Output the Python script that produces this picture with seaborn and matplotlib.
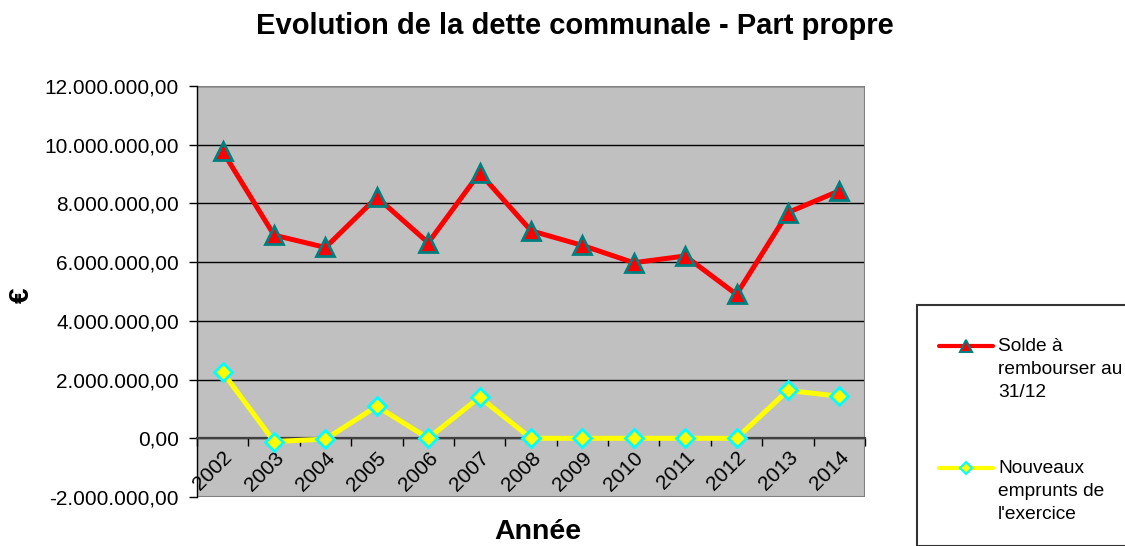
import pandas as pd
import matplotlib.pyplot as plt
import seaborn as sns
from matplotlib.lines import Line2D
from matplotlib.patches import Rectangle
from matplotlib.ticker import FixedLocator, FuncFormatter

annees = ['2002', '2003', '2004', '2005', '2006', '2007', '2008',
          '2009', '2010', '2011', '2012', '2013', '2014']
solde = [9770000, 6920000, 6500000, 8210000, 6660000, 9040000, 7070000,
         6570000, 5980000, 6210000, 4900000, 7690000, 8430000]
nouveaux = [2250000, -110000, -30000, 1090000, 0, 1400000, 0,
            0, 0, 0, 0, 1630000, 1430000]
y_ticks = [-2000000, 0, 2000000, 4000000, 6000000, 8000000, 10000000, 12000000]

lbl_solde = 'Solde à\nrembourser au\n31/12'
lbl_nouv = 'Nouveaux\nemprunts de\nl\'exercice'

df = pd.DataFrame({'annee': annees, 'solde': solde, 'nouveaux': nouveaux})
df['pos'] = range(len(df))

sns.set_style('white')
plt.rcParams['font.family'] = ['Liberation Sans', 'DejaVu Sans']
plt.rcParams['text.color'] = 'black'
plt.rcParams['xtick.labelcolor'] = 'black'
plt.rcParams['ytick.labelcolor'] = 'black'

W, H = 1125, 546
fig = plt.figure(figsize=(W / 100, H / 100), dpi=100)
ax = fig.add_axes([197 / W, 1 - 497 / H, 668 / W, 411 / H])
ax.set_facecolor('#C0C0C0')

sns.lineplot(data=df, x='pos', y='solde', ax=ax, color='#FF0000', linewidth=3.6,
             marker='^', markersize=13, markerfacecolor='#FF0000',
             markeredgecolor='#007F7F', markeredgewidth=2, zorder=4)
sns.lineplot(data=df, x='pos', y='nouveaux', ax=ax, color='#FFFF00', linewidth=3.6,
             marker='D', markersize=9, markerfacecolor='#FFFF00',
             markeredgecolor='#00FFFF', markeredgewidth=2, zorder=4)

ax.set_xlim(-0.5, len(annees) - 0.5)
ax.set_ylim(y_ticks[0], y_ticks[-1])

# y axis
ax.yaxis.set_major_locator(FixedLocator(y_ticks))
ax.yaxis.set_major_formatter(FuncFormatter(
    lambda v, p: f"{v:,.2f}".replace(',', ' ').replace('.', ',').replace(' ', '.')))
ax.tick_params(axis='y', direction='out', length=6, width=1, color='black',
               pad=7, labelsize=15, left=True)
ax.yaxis.grid(True, color='black', linewidth=1)
ax.set_axisbelow(True)

# x axis crossing at zero, ticks between categories
ax.spines['bottom'].set_position(('data', 0))
ax.spines['bottom'].set_color('#404040')
ax.spines['bottom'].set_linewidth(1.6)
ax.spines['bottom'].set_zorder(3)
ax.spines['left'].set_color('black')
ax.spines['left'].set_linewidth(1)
for s in ['top', 'right']:
    ax.spines[s].set_visible(False)
ax.add_patch(Rectangle((0, 0), 1, 1, transform=ax.transAxes, fill=False,
                       edgecolor='#808080', linewidth=1.5, zorder=2))

ax.set_xticks(df['pos'])
ax.set_xticklabels(annees)
ax.set_xticks([i - 0.5 for i in range(len(annees) + 1)], minor=True)
ax.tick_params(axis='x', which='major', length=0, pad=7, labelsize=15)
ax.tick_params(axis='x', which='minor', direction='out', length=6, width=1,
               color='black', bottom=True)
for t in ax.get_xticklabels():
    t.set_rotation(45)
    t.set_ha('right')
    t.set_va('top')
    t.set_rotation_mode('anchor')

ax.set_xlabel('')
ax.set_ylabel('')

fig.text(575 / W, 1 - 26 / H, 'Evolution de la dette communale - Part propre',
         ha='center', va='center', fontsize=21, fontweight='bold')
fig.text(538 / W, 1 / H, 'Année', ha='center', va='bottom',
         fontsize=20.5, fontweight='bold')
fig.text(22 / W, 1 - 295 / H, '€', rotation=90, ha='center', va='center',
         fontsize=20, fontweight='bold')

# legend box
fig.add_artist(Rectangle((917 / W, 0), 1, 1 - 305 / H, transform=fig.transFigure,
                         fill=False, edgecolor='#333333', linewidth=1.5))
for yy, lbl, col, mk, ms, mec in [(346, lbl_solde, '#FF0000', '^', 8, '#007F7F'),
                                  (468, lbl_nouv, '#FFFF00', 'D', 6, '#00FFFF')]:
    fig.add_artist(Line2D([939 / W, 993 / W], [1 - yy / H, 1 - yy / H],
                          transform=fig.transFigure, color=col, linewidth=3))
    fig.add_artist(Line2D([966 / W], [1 - yy / H], transform=fig.transFigure,
                          marker=mk, markersize=ms, markerfacecolor=col,
                          markeredgecolor=mec, markeredgewidth=1.5, linestyle='none'))
    fig.text(998 / W, 1 - (yy - 8) / H, lbl, ha='left', va='top',
             fontsize=13.8, linespacing=1.45)

fig.savefig('out.png', dpi=100)
